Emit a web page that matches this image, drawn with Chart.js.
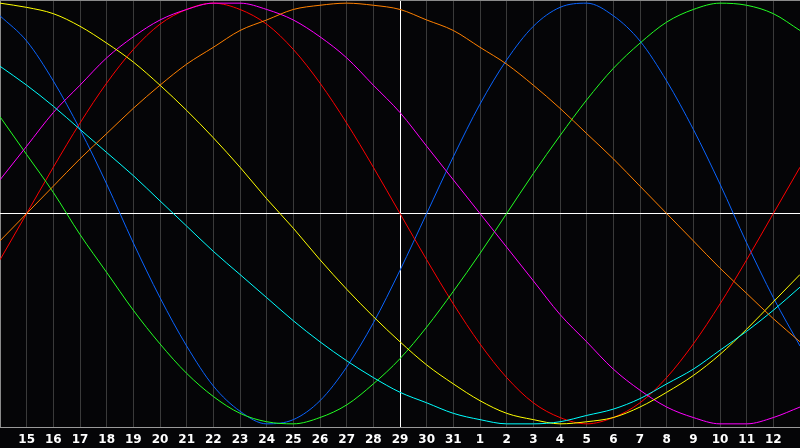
<!DOCTYPE html>
<html>
<head>
<meta charset="utf-8">
<script src="https://cdn.jsdelivr.net/npm/chart.js@4.4.0/dist/chart.umd.min.js"></script>
<style>
  html, body { margin: 0; padding: 0; background: #050507; }
  #wrap { width: 800px; height: 448px; }
</style>
</head>
<body>
<div id="wrap"><canvas id="bioChart" width="800" height="448"></canvas></div>
<script>
const days = ["14", "15", "16", "17", "18", "19", "20", "21", "22", "23", "24", "25", "26", "27", "28",
  "29", "30", "31", "1", "2", "3", "4", "5", "6", "7", "8", "9", "10", "11", "12", "13"];

const blue = [94, 82, 63, 40, 14, -14, -40, -63, -82, -94, -100, -98, -89, -73, -52, -27,
  0, 27, 52, 73, 89, 98, 100, 94, 82, 63, 40, 14, -14, -40, -63];
const red = [-22, 0, 22, 43, 62, 78, 90, 97, 100, 97, 90, 78, 62, 43, 22, 0,
  -22, -43, -62, -78, -90, -97, -100, -97, -90, -78, -62, -43, -22, 0, 22];
const green = [46, 28, 10, -10, -28, -46, -62, -76, -87, -95, -99, -100, -97, -91, -81, -69,
  -54, -37, -19, 0, 19, 37, 54, 69, 81, 91, 97, 100, 99, 95, 87];
const magenta = [16, 32, 48, 61, 74, 84, 92, 97, 100, 100, 97, 92, 84, 74, 61, 48,
  32, 16, 0, -16, -32, -48, -61, -74, -84, -92, -97, -100, -100, -97, -92];
const yellow = [100, 98, 95, 89, 81, 72, 61, 49, 36, 22, 7, -7, -22, -36, -49, -61,
  -72, -81, -89, -95, -98, -100, -99, -97, -92, -85, -77, -67, -55, -42, -29];
const orange = [-13, 0, 13, 26, 38, 50, 61, 71, 79, 87, 92, 97, 99, 100, 99, 97,
  92, 87, 79, 71, 61, 50, 38, 26, 13, 0, -13, -26, -38, -50, -61];
const cyan = [70, 61, 51, 40, 29, 18, 6, -6, -18, -29, -40, -51, -61, -70, -78, -85,
  -90, -95, -98, -100, -100, -99, -96, -93, -88, -81, -74, -65, -56, -46, -35];

const todayIndex = 15;

const background = {
  id: "background",
  beforeDraw(chart) {
    const c = chart.ctx;
    c.save();
    c.fillStyle = "#050507";
    c.fillRect(0, 0, chart.width, chart.height);
    c.restore();
  },
};

function line(data, color) {
  return {
    data: data,
    borderColor: color,
    borderWidth: 1,
    pointRadius: 0,
    cubicInterpolationMode: "monotone",
    fill: false,
  };
}

const ctx = document.getElementById("bioChart").getContext("2d");
const bioChart = new Chart(ctx, {
  type: "line",
  data: {
    labels: days,
    datasets: [
      line(orange, "#ff8000"),
      line(cyan, "#00ffff"),
      line(yellow, "#ffff00"),
      line(magenta, "#ff00ff"),
      line(green, "#22ff22"),
      line(red, "#ff0000"),
      line(blue, "#0a64ff"),
    ],
  },
  options: {
    responsive: false,
    animation: false,
    layout: { padding: 0 },
    plugins: {
      legend: { display: false },
      tooltip: { enabled: false },
    },
    scales: {
      x: {
        offset: false,
        afterFit: (axis) => {
          axis.height = 21;
          axis.paddingLeft = 0;
          axis.paddingRight = 0;
        },
        grid: {
          drawTicks: false,
          color: (c) => c.index === 0 ? "#8a8a8a" : (c.index === todayIndex ? "#ffffff" : "#3a3a3a"),
        },
        border: { display: true, color: "#9a9a9a" },
        ticks: {
          autoSkip: false,
          maxRotation: 0,
          padding: 6,
          color: "#ffffff",
          font: { family: "DejaVu Sans", size: 12, weight: "bold" },
          callback: function (value, index) {
            if (index === 0 || index === days.length - 1) return "";
            return days[index];
          },
        },
      },
      y: {
        min: -101.5,
        max: 101.5,
        afterFit: (axis) => { axis.width = 0; },
        afterBuildTicks: (axis) => {
          axis.ticks = [{ value: -101.5 }, { value: 0 }, { value: 101.5 }];
        },
        grid: {
          drawTicks: false,
          color: (c) => c.tick.value === 0 ? "#ffffff" : "#8a8a8a",
        },
        border: { display: false },
        ticks: { display: false },
      },
    },
  },
  plugins: [background],
});
</script>
</body>
</html>
